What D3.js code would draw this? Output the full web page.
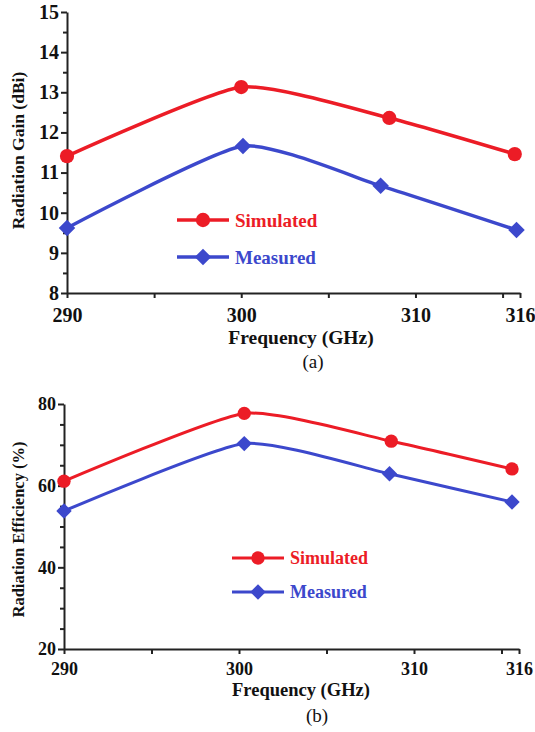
<!DOCTYPE html>
<html>
<head>
<meta charset="utf-8">
<script src="https://cdn.jsdelivr.net/npm/d3@7"></script>
<style>
	body { margin: 0; background: #fff; }
	svg text { font-family: 'Liberation Serif', 'Times New Roman', serif; }
</style>
</head>
<body>
<svg id="chart" width="535" height="732"></svg>
<script>
// panel (a) - radiation gain
const gainFreqSim = [290, 300, 308.5, 315.7]
const gainFreqMeas = [290, 300.1, 308, 315.8]
const gainSimulated = [11.41, 13.13, 12.36, 11.46]
const gainMeasured = [9.62, 11.66, 10.67, 9.57]
const gainTicks = [8, 9, 10, 11, 12, 13, 14, 15]

// panel (b) - radiation efficiency
const effFreqSim = [290, 300.3, 308.7, 315.6]
const effFreqMeas = [290, 300.3, 308.6, 315.6]
const effSimulated = [61.1, 77.7, 70.9, 64.1]
const effMeasured = [53.8, 70.3, 62.9, 56.0]
const effTicks = [20, 40, 60, 80]

const freqTicks = [290, 300, 310, 316]
const freqMinor = [295, 305, 315]
const seriesNames = ['Simulated', 'Measured']

const red = '#ec1c26'
const blue = '#3c48cc'

const svg = d3.select('#chart')

function marker(shape, size) {
	// the diamond in the figure is a square turned 45 degrees
	if (shape === 'diamond') return d3.symbol().type(d3.symbolSquare).size(size)()
	return d3.symbol().type(d3.symbolCircle).size(size)()
}

function drawPanel(opt) {
	const x = d3.scaleLinear().domain([290, 316]).range([opt.left, opt.right])
	const y = d3.scaleLinear().domain(opt.yDomain).range([opt.bottom, opt.top])
	const g = svg.append('g')

	// y minor ticks
	g.append('g')
		.attr('transform', `translate(${opt.left},0)`)
		.call(d3.axisLeft(y).tickValues(opt.yMinor).tickSize(4).tickFormat(''))
		.call(a => a.select('.domain').remove())

	g.append('g')
		.attr('transform', `translate(${opt.left},0)`)
		.call(d3.axisLeft(y).tickValues(opt.yTicks).tickSize(6).tickPadding(2).tickSizeOuter(0).tickFormat(d3.format('d')))
		.call(a => a.selectAll('text').attr('font-size', opt.tickFont).attr('font-weight', 'bold').attr('fill', '#111'))

	g.append('g')
		.attr('transform', `translate(0,${opt.bottom})`)
		.call(d3.axisBottom(x).tickValues(freqMinor).tickSize(5).tickFormat(''))
		.call(a => a.select('.domain').remove())

	g.append('g')
		.attr('transform', `translate(0,${opt.bottom})`)
		.call(d3.axisBottom(x).tickValues(freqTicks).tickSize(5).tickPadding(opt.xPad).tickSizeOuter(0).tickFormat(d3.format('d')))
		.call(a => a.selectAll('text').attr('font-size', opt.tickFont).attr('font-weight', 'bold').attr('fill', '#111'))

	g.selectAll('.domain, .tick line').attr('stroke', '#222').attr('stroke-width', 2)

	// axis titles
	g.append('text')
		.attr('transform', `translate(${opt.yTitleX},${(opt.top + opt.bottom) / 2 + opt.yTitleShift}) rotate(-90)`)
		.attr('text-anchor', 'middle')
		.attr('font-size', opt.yTitleFont)
		.attr('font-weight', 'bold')
		.attr('fill', '#111')
		.text(opt.yTitle)

	g.append('text')
		.attr('x', 301)
		.attr('y', opt.xTitleY)
		.attr('text-anchor', 'middle')
		.attr('font-size', opt.xTitleFont)
		.attr('font-weight', 'bold')
		.attr('fill', '#111')
		.text('Frequency (GHz)')

	g.append('text')
		.attr('x', opt.capX)
		.attr('y', opt.capY)
		.attr('text-anchor', 'middle')
		.attr('font-size', 19)
		.attr('fill', '#111')
		.text(opt.caption)

	const line = d3.line()
		.x(d => x(d[0]))
		.y(d => y(d[1]))
		.curve(d3.curveCardinal.tension(0.45))

	const series = [
		{ name: seriesNames[0], color: red, pts: d3.zip(opt.freqSim, opt.sim), shape: 'circle', size: opt.symSize, rot: 0 },
		{ name: seriesNames[1], color: blue, pts: d3.zip(opt.freqMeas, opt.meas), shape: 'diamond', size: opt.symSize * 0.85, rot: 45 }
	]

	series.forEach((s, i) => {
		g.append('path')
			.attr('d', line(s.pts))
			.attr('fill', 'none')
			.attr('stroke', s.color)
			.attr('stroke-width', opt.lineW)

		g.selectAll(null)
			.data(s.pts)
			.enter()
			.append('path')
			.attr('transform', d => `translate(${x(d[0])},${y(d[1])}) rotate(${s.rot})`)
			.attr('d', marker(s.shape, s.size))
			.attr('fill', s.color)

		// legend
		const ly = opt.legY + i * opt.legGap
		g.append('line')
			.attr('x1', opt.legX)
			.attr('x2', opt.legX + 52)
			.attr('y1', ly)
			.attr('y2', ly)
			.attr('stroke', s.color)
			.attr('stroke-width', opt.lineW)
		g.append('path')
			.attr('transform', `translate(${opt.legX + 26},${ly}) rotate(${s.rot})`)
			.attr('d', marker(s.shape, s.size))
			.attr('fill', s.color)
		g.append('text')
			.attr('x', opt.legX + 58)
			.attr('y', ly)
			.attr('dy', '0.35em')
			.attr('font-size', opt.legFont)
			.attr('font-weight', 'bold')
			.attr('fill', s.color)
			.text(s.name)
	})
}

drawPanel({
	left: 67, right: 520, top: 12, bottom: 293,
	yDomain: [8, 15], yTicks: gainTicks, yMinor: d3.range(8.5, 15, 1),
	freqSim: gainFreqSim, freqMeas: gainFreqMeas, sim: gainSimulated, meas: gainMeasured,
	yTitle: 'Radiation Gain (dBi)', yTitleX: 24, yTitleShift: -2, yTitleFont: 17.5,
	xTitleY: 344, xTitleFont: 19.5, caption: '(a)', capX: 313, capY: 368,
	tickFont: 20, xPad: 10, legFont: 19, lineW: 3.5, symSize: 160,
	legX: 177, legY: 220, legGap: 37
})

drawPanel({
	left: 64, right: 519, top: 404, bottom: 649,
	yDomain: [20, 80], yTicks: effTicks, yMinor: [25, 30, 35, 45, 50, 55, 65, 70, 75],
	freqSim: effFreqSim, freqMeas: effFreqMeas, sim: effSimulated, meas: effMeasured,
	yTitle: 'Radiation Efficiency (%)', yTitleX: 24, yTitleShift: 3, yTitleFont: 16.5,
	xTitleY: 696, xTitleFont: 18.5, caption: '(b)', capX: 317, capY: 722,
	tickFont: 18, xPad: 8, legFont: 18, lineW: 3, symSize: 140,
	legX: 232, legY: 558, legGap: 34
})
</script>
</body>
</html>
